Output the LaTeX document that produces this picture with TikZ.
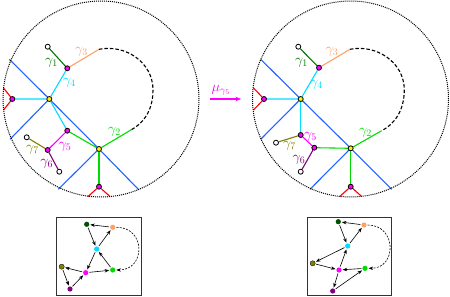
\documentclass[tikz,border=0pt]{standalone}
\usetikzlibrary{arrows.meta,backgrounds}
\definecolor{cblue}{RGB}{30,100,255}
\definecolor{ccyan}{RGB}{0,220,255}
\definecolor{cgreen}{RGB}{0,220,0}
\definecolor{cdgreen}{RGB}{0,120,0}
\definecolor{qdgreen}{RGB}{0,80,0}
\definecolor{corange}{RGB}{255,160,100}
\definecolor{colive}{RGB}{128,128,0}
\definecolor{cpurple}{RGB}{128,0,128}
\definecolor{cmag}{RGB}{255,0,255}
\definecolor{cred}{RGB}{255,0,0}
\tikzset{
  vtx/.style={circle,draw=black,line width=0.8pt,inner sep=0pt,minimum size=5pt},
  mnode/.style={vtx,fill=cmag},
  ynode/.style={vtx,fill=yellow},
  onode/.style={vtx,fill=white},
  edg/.style={line width=1.1pt},
  lbl/.style={font=\fontsize{14}{16}\selectfont,inner sep=0pt},
  outer/.style={circle,draw=black,line width=1pt,dash pattern=on 1pt off 1pt,minimum size=196pt,inner sep=0pt},
  qdot/.style={circle,inner sep=0pt,minimum size=5.2pt},
  qarr/.style={-{Stealth[length=4.5pt,width=3.4pt]},line width=0.6pt,shorten >=0.8pt,shorten <=0.8pt},
  qbox/.style={draw=black!80,line width=0.8pt}
}
\begin{document}
\begin{tikzpicture}[x=1pt,y=-1pt]
\useasboundingbox (0,0) rectangle (450,297);
% ---------------- left diagram ----------------
\node[outer] (LC) at (101,99) {};
\node[onode] (o1) at (47.7,46.7) {};
\node[mnode] (A) at (67.3,68.3) {};
\coordinate (g3) at (99,49.3);
\node[ynode] (B) at (49.3,99) {};
\node[mnode] (C) at (12.3,99) {};
\coordinate (c1) at (3.5,88);
\coordinate (c2) at (3.5,110);
\node[mnode] (D) at (67.3,130.7) {};
\node[ynode] (E) at (99,149) {};
\coordinate (g2) at (131.7,129.5);
\node[mnode] (F) at (99,186.7) {};
\coordinate (f1) at (88,196.5);
\coordinate (f2) at (110,196.5);
\node[mnode] (G) at (47.7,150) {};
\node[onode] (o7) at (26.7,137.3) {};
\node[onode] (o6) at (59.3,171.7) {};
\coordinate (b1) at (9.3,59.3);
\coordinate (b2) at (138.3,189.3);
\coordinate (b3) at (10,139.3);
\coordinate (b4) at (58.3,189.3);
\begin{scope}[on background layer]
\draw[edg,cblue] (b1) -- (B.center) -- (E.center) -- (b2);
\draw[edg,cblue] (B.center) -- (b3);
\draw[edg,cblue] (E.center) -- (b4);
\draw[edg,ccyan] (C) -- (B) -- (A);
\draw[edg,ccyan] (B) -- (D);
\draw[edg,cgreen] (D) -- (E) -- (g2);
\draw[edg,cgreen] (E) -- (F);
\draw[edg,corange] (A) -- (g3);
\draw[edg,cdgreen] (A) -- (o1);
\draw[edg,cmag] (D) -- (G);
\draw[edg,colive] (G) -- (o7);
\draw[edg,cpurple] (G) -- (o6);
\draw[edg,cred] (c1) -- (C) -- (c2);
\draw[edg,cred] (f1) -- (F) -- (f2);
\draw[edg,dash pattern=on 3.5pt off 2pt] (g3) .. controls (125,44) and (153,62) .. (153,90) .. controls (153,112) and (142,124) .. (g2);
\end{scope}
\node[lbl,text=corange] (l3) at (81.5,51.7) {$\gamma_3$};
\node[lbl,text=cdgreen] (l1) at (51.5,62.5) {$\gamma_1$};
\node[lbl,text=ccyan] (l4) at (69.5,83) {$\gamma_4$};
\node[lbl,text=cgreen] (l2) at (114.5,132) {$\gamma_2$};
\node[lbl,text=cmag] (l5) at (65,146.7) {$\gamma_5$};
\node[lbl,text=colive] (l7) at (32.5,150) {$\gamma_7$};
\node[lbl,text=cpurple] (l6) at (46.7,164) {$\gamma_6$};
% ---------------- mutation arrow ----------------
\coordinate (m1) at (210,99);
\coordinate (m2) at (241,99);
\draw[cmag,line width=1.1pt,-{Stealth[length=5.5pt,width=4.5pt]}] (m1) -- (m2);
\node[lbl,text=cmag] (mu) at (221,90) {$\mu_{\gamma_5}$};
% ---------------- right diagram ----------------
\node[outer] (RC) at (350.5,99) {};
\node[onode] (p1) at (298.3,46.7) {};
\node[mnode] (A2) at (319,67.7) {};
\coordinate (h3) at (350,49.3);
\node[ynode] (B2) at (300.7,99) {};
\node[mnode] (C2) at (264,99) {};
\coordinate (d1) at (253.5,88);
\coordinate (d2) at (253.5,110);
\node[mnode] (D2) at (300.7,135) {};
\node[mnode] (G2) at (314.3,147.7) {};
\node[ynode] (E2) at (350.7,148.3) {};
\coordinate (h2) at (381.7,130.7);
\node[mnode] (F2) at (350.7,186.7) {};
\coordinate (e1) at (339.7,196.5);
\coordinate (e2) at (361.7,196.5);
\node[onode] (p7) at (276,142.7) {};
\node[onode] (p6) at (300.7,171.7) {};
\coordinate (k1) at (260.7,59.3);
\coordinate (k2) at (391.7,189.3);
\coordinate (k3) at (260.7,139.3);
\coordinate (k4) at (310,189.3);
\begin{scope}[on background layer]
\draw[edg,cblue] (k1) -- (B2.center) -- (E2.center) -- (k2);
\draw[edg,cblue] (B2.center) -- (k3);
\draw[edg,cblue] (E2.center) -- (k4);
\draw[edg,ccyan] (C2) -- (B2) -- (A2);
\draw[edg,ccyan] (B2) -- (D2);
\draw[edg,cgreen] (G2) -- (E2) -- (h2);
\draw[edg,cgreen] (E2) -- (F2);
\draw[edg,corange] (A2) -- (h3);
\draw[edg,cdgreen] (A2) -- (p1);
\draw[edg,cmag] (D2) -- (G2);
\draw[edg,colive] (D2) -- (p7);
\draw[edg,cpurple] (G2) -- (p6);
\draw[edg,cred] (d1) -- (C2) -- (d2);
\draw[edg,cred] (e1) -- (F2) -- (e2);
\draw[edg,dash pattern=on 3.5pt off 2pt] (h3) .. controls (376,44) and (404.3,62) .. (404.3,90) .. controls (404.3,112) and (393,125) .. (h2);
\end{scope}
\node[lbl,text=corange] (r3) at (332,51.7) {$\gamma_3$};
\node[lbl,text=cdgreen] (r1) at (301.5,63) {$\gamma_1$};
\node[lbl,text=ccyan] (r4) at (316.5,85) {$\gamma_4$};
\node[lbl,text=cgreen] (r2) at (365.5,132.5) {$\gamma_2$};
\node[lbl,text=cmag] (r5) at (310.5,136.5) {$\gamma_5$};
\node[lbl,text=colive] (r7) at (289.5,146) {$\gamma_7$};
\node[lbl,text=cpurple] (r6) at (299,159.5) {$\gamma_6$};
% ---------------- left quiver ----------------
\node[qbox,minimum width=85pt,minimum height=78pt,inner sep=0pt] (QL) at (99.2,256.2) {};
\node[qdot,fill=qdgreen] (q1) at (86.7,224.3) {};
\node[qdot,fill=corange] (q3) at (112.7,227.3) {};
\node[qdot,fill=ccyan] (q4) at (96.7,249) {};
\node[qdot,fill=colive,draw=black,line width=0.3pt] (q7) at (61.7,266.7) {};
\node[qdot,fill=cmag] (q5) at (85.7,272.7) {};
\node[qdot,fill=cgreen] (q2) at (112.7,270) {};
\node[qdot,fill=cpurple] (q6) at (70,289) {};
\draw[qarr] (q3) -- (q1);
\draw[qarr] (q1) -- (q4);
\draw[qarr] (q4) -- (q3);
\draw[qarr] (q4) -- (q5);
\draw[qarr] (q2) -- (q4);
\draw[qarr] (q5) -- (q2);
\draw[qarr] (q5) -- (q7);
\draw[qarr] (q7) -- (q6);
\draw[qarr] (q6) -- (q5);
\draw[qarr,dash pattern=on 2pt off 1.3pt] (q3.east) .. controls (146,227) and (146,270) .. (q2.east);
% ---------------- right quiver ----------------
\node[qbox,minimum width=84.4pt,minimum height=78pt,inner sep=0pt] (QR) at (349.5,256.2) {};
\node[qdot,fill=qdgreen] (s1) at (338.3,221.7) {};
\node[qdot,fill=corange] (s3) at (364,225) {};
\node[qdot,fill=ccyan] (s4) at (347.7,246) {};
\node[qdot,fill=colive,draw=black,line width=0.3pt] (s7) at (312.7,263.3) {};
\node[qdot,fill=cmag] (s5) at (339,270) {};
\node[qdot,fill=cgreen] (s2) at (365,268.3) {};
\node[qdot,fill=cpurple] (s6) at (332.7,291) {};
\draw[qarr] (s3) -- (s1);
\draw[qarr] (s1) -- (s4);
\draw[qarr] (s4) -- (s3);
\draw[qarr] (s4) -- (s7);
\draw[qarr] (s7) -- (s5);
\draw[qarr] (s5) -- (s4);
\draw[qarr] (s2) -- (s5);
\draw[qarr] (s5) -- (s6);
\draw[qarr] (s6) -- (s2);
\draw[qarr,dash pattern=on 2pt off 1.3pt] (s3.east) .. controls (397,225) and (397,268.3) .. (s2.east);
\end{tikzpicture}
\end{document}
